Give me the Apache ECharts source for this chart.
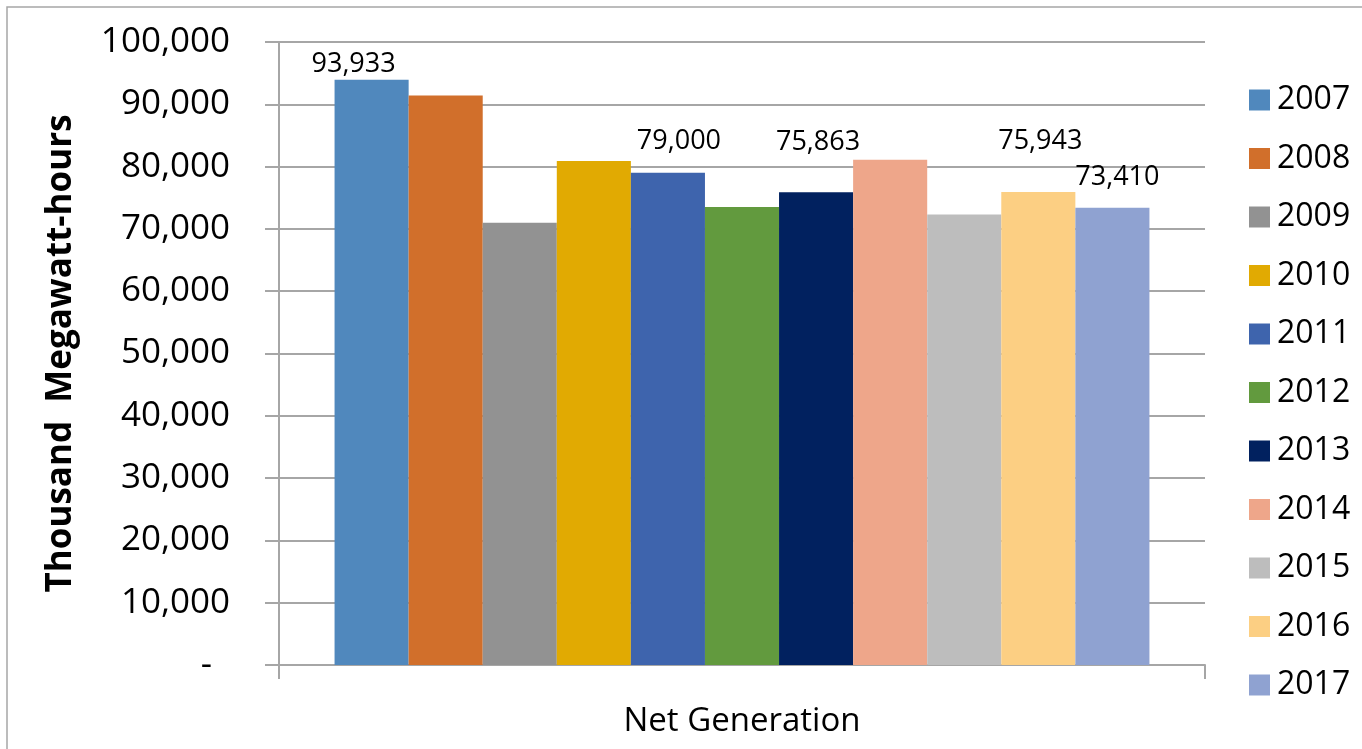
<!DOCTYPE html>
<html>
<head>
<meta charset="utf-8">
<script src="https://cdn.jsdelivr.net/npm/echarts@6/dist/echarts.min.js"></script>
<style>
  html, body { margin: 0; padding: 0; background: #fff; }
  #chart { width: 1362px; height: 749px; }
</style>
</head>
<body>
<div id="chart"></div>
<script>
var category = ['Net Generation'];
var years = ['2007', '2008', '2009', '2010', '2011', '2012', '2013', '2014', '2015', '2016', '2017'];
var values = [93933, 91400, 71000, 80900, 79000, 73500, 75863, 81100, 72300, 75943, 73410];
var showLabel = [true, false, false, false, true, false, true, false, false, true, true];

var colors = ['#5088bd', '#d16f2b', '#929292', '#e1aa02', '#3e64ad', '#629a3e',
              '#01215f', '#eea68a', '#bdbdbd', '#fccf83', '#8fa2d1'];
// label placement as in the original (manually nudged labels)
var labelDist = [2, 5, 5, 5, 18, 5, 37, 5, 5, 37, 17];
var labelShift = [-18, 0, 0, 0, 11, 0, 2, 0, 0, 2, 5];

var font = '"Open Sans", "Liberation Sans", sans-serif';

var chart = echarts.init(document.getElementById('chart'));

var series = years.map(function (y, i) {
  return {
    name: y,
    type: 'bar',
    barGap: '0%',
    barCategoryGap: '12%',
    itemStyle: { color: colors[i] },
    label: {
      show: showLabel[i],
      position: 'top',
      distance: labelDist[i],
      offset: [labelShift[i], 0],
      fontFamily: font,
      fontSize: 27,
      color: '#000',
      formatter: function (p) { return p.value.toLocaleString('en-US'); }
    },
    data: [values[i]]
  };
});

var option = {
  backgroundColor: '#fff',
  animation: false,
  graphic: [{
    type: 'rect',
    shape: { x: 7, y: 7, width: 1400, height: 800 },
    style: { fill: 'none', stroke: '#a6a6a6', lineWidth: 1.5 },
    silent: true
  }],
  grid: { left: 279, right: 157, top: 42, bottom: 84 },
  legend: {
    orient: 'vertical',
    left: 1244,
    top: 79,
    itemWidth: 21,
    itemHeight: 21,
    itemGap: 26.5,
    icon: 'rect',
    textStyle: { fontFamily: font, fontSize: 32, color: '#000', padding: [0, 0, 0, 2] },
    data: years
  },
  xAxis: {
    type: 'category',
    data: category,
    axisLine: { show: true, lineStyle: { color: '#a6a6a6', width: 2 } },
    axisTick: { show: true, length: 14, lineStyle: { color: '#a6a6a6', width: 2 } },
    axisLabel: { margin: 40, fontFamily: font, fontSize: 33, color: '#000' }
  },
  yAxis: {
    type: 'value',
    name: 'Thousand  Megawatt-hours',
    nameLocation: 'middle',
    nameGap: 200,
    nameTextStyle: { fontFamily: font, fontSize: 35, fontWeight: 'bold', color: '#000' },
    min: 0,
    max: 100000,
    interval: 10000,
    axisLine: { show: true, lineStyle: { color: '#a6a6a6', width: 2 } },
    axisTick: { show: true, length: 14, lineStyle: { color: '#a6a6a6', width: 2 } },
    splitLine: { show: true, lineStyle: { color: '#a6a6a6', width: 2 } },
    axisLabel: {
      margin: 49,
      fontFamily: font,
      fontSize: 35,
      color: '#000',
      formatter: function (v) { return v === 0 ? '{dash|-}' : v.toLocaleString('en-US'); },
      rich: { dash: { fontFamily: font, fontSize: 35, color: '#000', padding: [0, 18, 0, 0] } }
    }
  },
  series: series
};

chart.setOption(option);
</script>
</body>
</html>
